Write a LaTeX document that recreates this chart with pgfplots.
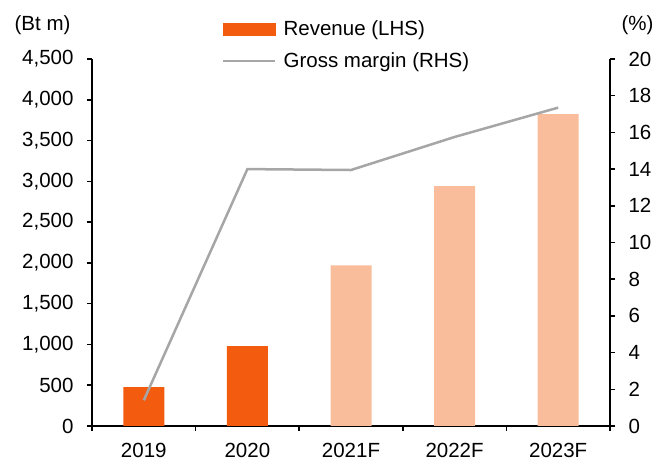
\documentclass[border=0pt]{standalone}
\usepackage{fontspec}
\setmainfont{Liberation Sans}
\usepackage{pgfplots}
\pgfplotsset{compat=1.18}
\definecolor{revdark}{HTML}{F35B0F}
\definecolor{revlight}{HTML}{F9BD9B}
\definecolor{gmgray}{HTML}{A6A6A6}
\begin{document}
\begin{tikzpicture}[font=\fontsize{20.5}{24}\selectfont]
\pgfplotsset{
  every axis/.append style={
    scale only axis, width=518pt, height=367pt,
    xmin=-0.5, xmax=4.5,
    /pgf/number format/assume math mode=true,
    tick align=outside,
    axis line style={line width=1.5pt,-},
    tick style={line width=1.5pt, black},
    major tick length=5pt, minor tick length=5pt,
    tick label style={font=\fontsize{20.5}{24}\selectfont},
  }
}
\begin{axis}[
  axis x line*=bottom, axis y line*=left,
  ymin=0, ymax=4500, ytick={0,500,...,4500},
  /pgf/number format/1000 sep={,},
  yticklabel style={xshift=-10pt},
  xtick={-0.5,0.5,1.5,2.5,3.5,4.5}, xticklabels={},
  extra x ticks={0,1,2,3,4},
  extra x tick labels={2019,2020,2021F,2022F,2023F},
  extra x tick style={major tick length=0pt, tick label style={yshift=-14pt}},
  ybar, bar width=41pt, bar shift=0pt,
]
\addplot[fill=revdark, draw=none] coordinates {(0,478)(1,980)};
\addplot[fill=revlight, draw=none] coordinates {(2,1970)(3,2942)(4,3825)};
\coordinate (bl) at (rel axis cs:0,0);
\coordinate (tr) at (rel axis cs:1,1);
\end{axis}
\begin{axis}[
  axis y line*=right, axis x line=none,
  ymin=0, ymax=20, ytick={0,2,...,20},
  yticklabel style={xshift=10pt},
  legend style={draw=none, fill=none, at={(axis description cs:0.245,1.116)},
    anchor=north west, legend cell align=left, row sep=12pt,
    /tikz/every odd column/.append style={column sep=5pt}},
]
\addlegendimage{legend image code/.code={\fill[revdark] (0pt,-6pt) rectangle (52pt,6pt);}}
\addlegendentry{Revenue (LHS)}
\addplot[gmgray, line width=2.5pt, mark=none,
  legend image code/.code={\draw[gmgray,line width=2.5pt] (0pt,0pt) -- (52pt,0pt);}]
  coordinates {(0,1.4)(1,14.0)(2,13.95)(3,15.75)(4,17.35)};
\addlegendentry{Gross margin (RHS)}
\end{axis}
\node[anchor=east] at ([shift={(-18pt,34pt)}]bl |- tr) {(Bt m)};
\node[anchor=center] at ([shift={(27.5pt,34pt)}]tr) {(\%)};
\useasboundingbox ([shift={(-92pt,-35pt)}]bl) rectangle ([shift={(56pt,59pt)}]tr);
\end{tikzpicture}
\end{document}
